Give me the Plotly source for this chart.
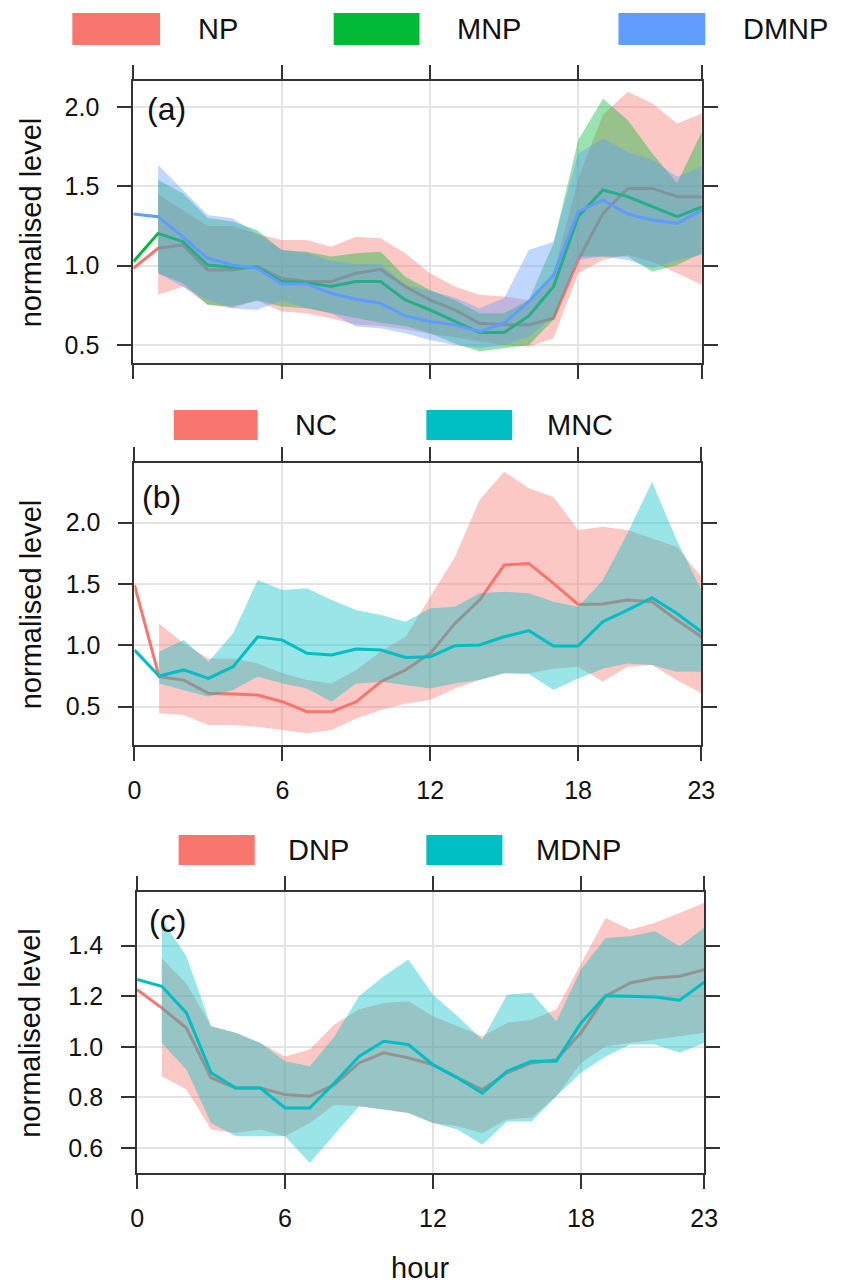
import plotly.graph_objects as go

W, H = 847, 1286

hours = list(range(24))
band_hours = list(range(1, 24))
x_ticks = [0, 6, 12, 18, 23]

# ---------------- Panel (a) ----------------
np_mean = [0.983, 1.109, 1.13, 0.973, 0.973, 0.994, 0.92, 0.90, 0.90, 0.952, 0.977, 0.868,
           0.784, 0.721, 0.637, 0.627, 0.627, 0.669, 1.036, 1.329, 1.486, 1.486, 1.434, 1.434]
np_upper = [1.45, 1.35, 1.25, 1.25, 1.2, 1.161, 1.161, 1.119, 1.182, 1.172, 1.078, 0.952,
            0.868, 0.816, 0.805, 0.784, 0.95, 1.55, 1.95, 2.094, 2.02, 1.895, 1.958]
np_lower = [0.816, 0.868, 0.753, 0.732, 0.78, 0.711, 0.70, 0.669, 0.627, 0.62, 0.60, 0.57,
            0.55, 0.52, 0.50, 0.49, 0.543, 0.952, 1.036, 1.067, 1.025, 0.952, 0.878]

mnp_mean = [1.025, 1.203, 1.151, 1.004, 0.99, 0.99, 0.90, 0.893, 0.868, 0.90, 0.90, 0.784,
            0.721, 0.648, 0.579, 0.579, 0.683, 0.868, 1.31, 1.476, 1.434, 1.371, 1.308, 1.37]
mnp_upper = [1.539, 1.455, 1.30, 1.277, 1.224, 1.098, 1.088, 1.057, 1.078, 1.088, 0.93, 0.847,
             0.784, 0.70, 0.70, 0.784, 1.14, 1.79, 2.05, 1.916, 1.706, 1.518, 1.843]
mnp_lower = [0.952, 0.889, 0.753, 0.742, 0.78, 0.742, 0.732, 0.70, 0.67, 0.64, 0.62, 0.574,
             0.51, 0.459, 0.48, 0.50, 0.66, 1.057, 1.057, 1.057, 0.962, 1.004, 1.078]

dmnp_mean = [1.325, 1.308, 1.18, 1.046, 1.004, 0.983, 0.885, 0.885, 0.826, 0.788, 0.763, 0.683,
             0.648, 0.627, 0.585, 0.637, 0.774, 0.941, 1.34, 1.413, 1.325, 1.287, 1.266, 1.35]
dmnp_upper = [1.633, 1.476, 1.319, 1.298, 1.203, 1.098, 1.08, 1.03, 1.01, 1.01, 0.88, 0.84,
              0.80, 0.732, 0.795, 1.098, 1.15, 1.706, 1.80, 1.717, 1.665, 1.56, 1.623]
dmnp_lower = [0.952, 0.87, 0.784, 0.732, 0.72, 0.78, 0.732, 0.70, 0.616, 0.606, 0.574, 0.532,
              0.50, 0.48, 0.50, 0.553, 0.68, 1.036, 1.057, 1.036, 0.983, 1.036, 1.067]

# ---------------- Panel (b) ----------------
nc_mean = [1.492, 0.745, 0.717, 0.609, 0.603, 0.595, 0.541, 0.459, 0.459, 0.541, 0.704, 0.80,
           0.935, 1.179, 1.37, 1.655, 1.668, 1.505, 1.334, 1.337, 1.37, 1.356, 1.207, 1.071]
nc_upper = [1.179, 1.016, 0.894, 0.894, 0.853, 0.772, 0.717, 0.69, 0.80, 0.95, 1.07, 1.397,
            1.72, 2.185, 2.416, 2.28, 2.21, 1.94, 1.967, 1.94, 1.872, 1.804, 1.56]
nc_lower = [0.446, 0.432, 0.35, 0.35, 0.337, 0.31, 0.283, 0.31, 0.405, 0.473, 0.527, 0.554,
            0.649, 0.717, 0.772, 0.772, 0.81, 0.826, 0.704, 0.826, 0.84, 0.717, 0.609]

mnc_mean = [0.962, 0.75, 0.80, 0.731, 0.826, 1.07, 1.043, 0.935, 0.921, 0.97, 0.962, 0.902,
            0.908, 0.997, 1.003, 1.07, 1.12, 0.995, 0.995, 1.193, 1.288, 1.389, 1.261, 1.111]
mnc_upper = [0.948, 1.043, 0.867, 1.098, 1.533, 1.451, 1.465, 1.37, 1.288, 1.247, 1.193, 1.302,
             1.315, 1.424, 1.438, 1.424, 1.356, 1.315, 1.53, 1.913, 2.334, 1.859, 1.451]
mnc_lower = [0.69, 0.636, 0.582, 0.636, 0.745, 0.69, 0.649, 0.541, 0.69, 0.704, 0.677, 0.649,
             0.69, 0.717, 0.772, 0.766, 0.636, 0.731, 0.81, 0.853, 0.84, 0.785, 0.785]

# ---------------- Panel (c) ----------------
dnp_mean = [1.226, 1.154, 1.074, 0.877, 0.837, 0.837, 0.811, 0.804, 0.85, 0.936, 0.976, 0.956,
            0.929, 0.877, 0.831, 0.897, 0.936, 0.949, 1.055, 1.20, 1.252, 1.272, 1.279, 1.305]
dnp_upper = [1.35, 1.25, 1.081, 1.055, 1.015, 0.962, 0.989, 1.088, 1.147, 1.173, 1.18, 1.121,
             1.081, 1.042, 1.094, 1.107, 1.147, 1.331, 1.509, 1.463, 1.49, 1.529, 1.569]
dnp_lower = [0.883, 0.831, 0.673, 0.659, 0.673, 0.646, 0.699, 0.771, 0.765, 0.752, 0.738, 0.699,
             0.686, 0.659, 0.712, 0.72, 0.804, 0.936, 1.002, 1.015, 1.028, 1.042, 1.055]

mdnp_mean = [1.266, 1.239, 1.134, 0.897, 0.837, 0.837, 0.758, 0.758, 0.857, 0.962, 1.022, 1.009,
             0.929, 0.877, 0.817, 0.903, 0.943, 0.943, 1.094, 1.202, 1.20, 1.197, 1.184, 1.255]
mdnp_upper = [1.503, 1.358, 1.081, 1.055, 1.015, 0.943, 0.923, 1.04, 1.2, 1.279, 1.345, 1.206,
              1.121, 1.028, 1.206, 1.213, 1.101, 1.305, 1.43, 1.437, 1.457, 1.397, 1.47]
mdnp_lower = [1.015, 0.91, 0.699, 0.646, 0.646, 0.646, 0.541, 0.653, 0.765, 0.752, 0.738, 0.699,
              0.673, 0.613, 0.705, 0.705, 0.804, 0.897, 0.962, 1.009, 1.009, 0.976, 1.015]

RED, GREEN, BLUE, CYAN = "#F8766D", "#00BA38", "#619CFF", "#00BFC4"

def rgba(hexc, a):
    h = hexc.lstrip("#")
    r, g, b = int(h[0:2], 16), int(h[2:4], 16), int(h[4:6], 16)
    return f"rgba({r},{g},{b},{a})"

FONT = "Liberation Sans, Arial, sans-serif"

fig = go.Figure()

panels = [
    dict(ax="", box=(129.6, 712.5, 80.7, 363.0), yr=[0.387, 2.164], yt=[0.5, 1.0, 1.5, 2.0],
         xlabels=False,
         series=[(np_mean, np_upper, np_lower, RED),
                 (mnp_mean, mnp_upper, mnp_lower, GREEN),
                 (dmnp_mean, dmnp_upper, dmnp_lower, BLUE)],
         tag="(a)", tagpos=(141, 109)),
    dict(ax="2", box=(130.7, 712.0, 462.7, 745.0), yr=[0.188, 2.489], yt=[0.5, 1.0, 1.5, 2.0],
         xlabels=True,
         series=[(nc_mean, nc_upper, nc_lower, RED),
                 (mnc_mean, mnc_upper, mnc_lower, CYAN)],
         tag="(b)", tagpos=(136, 497)),
    dict(ax="3", box=(133.4, 715.0, 891.7, 1173.0), yr=[0.501, 1.613],
         yt=[0.6, 0.8, 1.0, 1.2, 1.4], xlabels=True,
         series=[(dnp_mean, dnp_upper, dnp_lower, RED),
                 (mdnp_mean, mdnp_upper, mdnp_lower, CYAN)],
         tag="(c)", tagpos=(144, 921)),
]

annotations = []
shapes = []

def px_x(x):
    return x / W

def px_y(y):
    return 1 - y / H

for p in panels:
    xa = "x" + p["ax"]
    ya = "y" + p["ax"]
    for mean, up, lo, col in p["series"]:
        fig.add_trace(go.Scatter(x=hours, y=mean, mode="lines",
                                 line=dict(color=col, width=3),
                                 xaxis=xa, yaxis=ya, showlegend=False, hoverinfo="skip"))
        fig.add_trace(go.Scatter(x=band_hours + band_hours[::-1], y=up + lo[::-1],
                                 mode="lines", fill="toself", fillcolor=rgba(col, 0.4),
                                 line=dict(width=0), xaxis=xa, yaxis=ya,
                                 showlegend=False, hoverinfo="skip"))
    x0, x1, y0, y1 = p["box"]
    common = dict(showline=True, linecolor="#333333", linewidth=2, mirror="allticks",
                  ticks="outside", ticklen=14, tickwidth=2, tickcolor="#333333",
                  showgrid=True, gridcolor="#e4e4e4", gridwidth=1.5, zeroline=False,
                  tickfont=dict(family=FONT, size=25, color="#111111"))
    fig.update_layout(**{
        "xaxis" + p["ax"]: dict(domain=[px_x(x0), px_x(x1)], range=[0, 23], tickvals=x_ticks,
                                ticktext=[str(v) for v in x_ticks], ticklabelstandoff=8,
                                showticklabels=p["xlabels"], anchor=ya, **common),
        "yaxis" + p["ax"]: dict(domain=[px_y(y1), px_y(y0)], range=p["yr"], tickvals=p["yt"],
                                ticktext=[f"{v:.1f}" for v in p["yt"]], ticklabelstandoff=13,
                                anchor=xa, **common),
    })
    annotations.append(dict(x=px_x(24), y=px_y((y0 + y1) / 2), xref="paper", yref="paper",
                            text="normalised level", textangle=-90, showarrow=False,
                            xanchor="center", yanchor="middle",
                            font=dict(family=FONT, size=29, color="#111111")))
    tx, ty = p["tagpos"]
    annotations.append(dict(x=px_x(tx), y=px_y(ty), xref="paper", yref="paper",
                            text=p["tag"], showarrow=False, xanchor="left", yanchor="middle",
                            font=dict(family=FONT, size=32, color="#111111")))

# legends (keys drawn as rectangles with labels)
legend_rows = [
    (29, [("NP", RED, 67, 157, 194), ("MNP", GREEN, 335, 423, 459), ("DMNP", BLUE, 627, 716, 753)], 32),
    (425, [("NC", RED, 171, 257, 293), ("MNC", CYAN, 430, 518, 552)], 30),
    (850, [("DNP", RED, 176, 254, 286), ("MDNP", CYAN, 430, 508, 540)], 30),
]
for yc, items, hgt in legend_rows:
    for name, col, rx0, rx1, tx in items:
        shapes.append(dict(type="rect", xref="paper", yref="paper",
                           x0=px_x(rx0), x1=px_x(rx1), y0=px_y(yc + hgt / 2), y1=px_y(yc - hgt / 2),
                           fillcolor=col, line=dict(width=0)))
        annotations.append(dict(x=px_x(tx), y=px_y(yc), xref="paper", yref="paper", text=name,
                                showarrow=False, xanchor="left", yanchor="middle",
                                font=dict(family=FONT, size=29, color="#111111")))

annotations.append(dict(x=px_x(423), y=px_y(1268), xref="paper", yref="paper", text="hour",
                        showarrow=False, xanchor="center", yanchor="middle",
                        font=dict(family=FONT, size=29, color="#111111")))

fig.update_layout(width=W, height=H, margin=dict(l=0, r=0, t=0, b=0),
                  paper_bgcolor="white", plot_bgcolor="white",
                  annotations=annotations, shapes=shapes, showlegend=False,
                  font=dict(family=FONT))

fig.write_html("out.html")
